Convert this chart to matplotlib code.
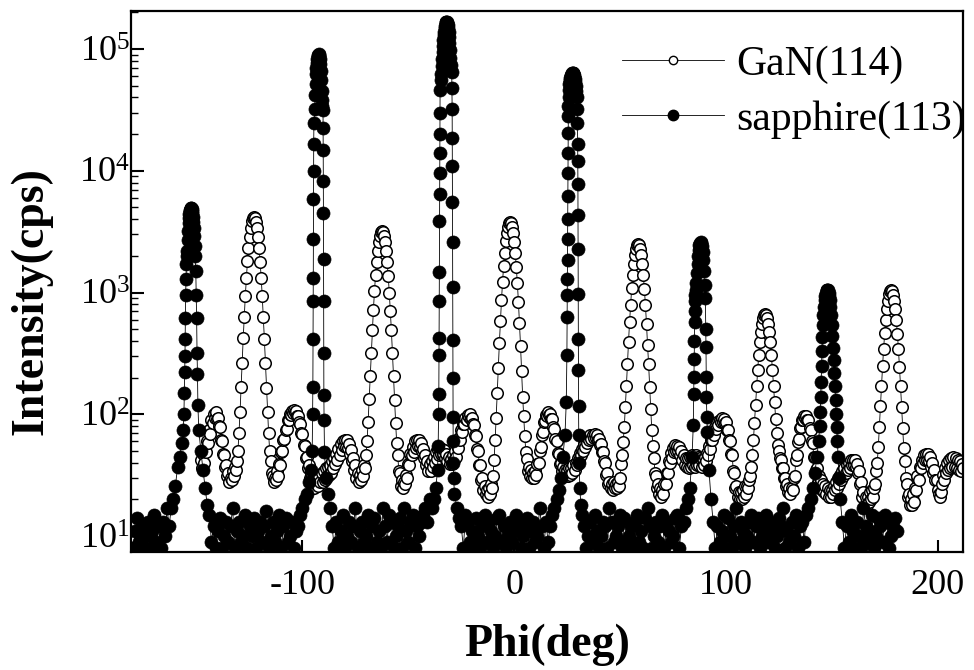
import numpy as np
import matplotlib
matplotlib.use("Agg")
import matplotlib.pyplot as plt
from matplotlib.lines import Line2D
import matplotlib.ticker as mticker

#
# Data
#

# GaN(114): 0.5 deg steps starting at -148 deg
gan_start = -148.0
gan_step = 0.5
gan_counts = [
    42, 36, 47, 40, 51, 49, 60, 58, 74, 69, 90, 85, 101, 94, 104, 92, 93, 80, 78, 62,
    60, 47, 46, 37, 38, 31, 33, 28, 30, 29, 34, 31, 37, 35, 41, 50, 70, 104, 168, 262,
    420, 635, 940, 1310, 1800, 2320, 2870, 3400, 3830, 4100, 4200, 4090, 3810, 3380, 2880, 2330, 1790, 1320, 930, 625,
    415, 265, 165, 104, 70, 50, 41, 33, 31, 28, 30, 29, 34, 31, 39, 38, 49, 50, 62, 63,
    75, 76, 89, 90, 100, 98, 107, 103, 109, 104, 106, 96, 97, 86, 83, 70, 69, 56, 55, 44,
    45, 36, 38, 30, 33, 27, 29, 25, 28, 27, 31, 26, 31, 28, 33, 28, 34, 29, 36, 31,
    37, 32, 38, 33, 41, 36, 44, 39, 47, 42, 52, 46, 57, 51, 60, 55, 62, 54, 61, 53,
    57, 47, 51, 41, 44, 35, 38, 30, 33, 28, 32, 29, 35, 31, 38, 36, 46, 60, 87, 133,
    205, 320, 488, 720, 1020, 1380, 1785, 2200, 2590, 2915, 3125, 3200, 3120, 2910, 2580, 2190, 1770, 1370, 1000, 705,
    488, 320, 205, 130, 85, 58, 46, 34, 33, 26, 29, 25, 28, 27, 32, 30, 39, 38, 47, 46,
    54, 49, 60, 53, 62, 55, 61, 54, 58, 50, 52, 44, 46, 38, 41, 34, 39, 34, 41, 37,
    45, 40, 49, 43, 51, 46, 53, 47, 52, 47, 51, 44, 47, 41, 45, 39, 43, 39, 46, 42,
    50, 45, 56, 53, 64, 62, 74, 72, 84, 83, 93, 90, 99, 95, 100, 92, 93, 83, 82, 68,
    66, 52, 50, 38, 38, 29, 30, 24, 26, 22, 24, 21, 25, 22, 27, 25, 31, 42, 61, 94,
    150, 242, 383, 585, 862, 1220, 1650, 2130, 2630, 3090, 3480, 3730, 3800, 3710, 3460, 3070, 2600, 2110, 1620, 1190,
    840, 565, 365, 226, 140, 96, 66, 49, 43, 34, 37, 31, 35, 30, 33, 30, 34, 32, 39, 40,
    50, 54, 68, 72, 86, 88, 98, 97, 104, 98, 101, 92, 91, 79, 76, 63, 60, 48, 47, 39,
    40, 34, 37, 32, 35, 31, 34, 31, 36, 32, 36, 33, 38, 35, 40, 38, 44, 42, 48, 46,
    52, 50, 57, 54, 61, 58, 64, 61, 67, 63, 68, 64, 69, 64, 67, 61, 63, 56, 57, 49,
    49, 41, 40, 32, 33, 27, 28, 25, 27, 24, 28, 25, 27, 25, 28, 26, 30, 39, 46, 59,
    78, 114, 170, 260, 392, 574, 785, 1090, 1385, 1713, 2020, 2275, 2443, 2500, 2443, 2275, 2020, 1713, 1385, 1068,
    785, 550, 368, 257, 167, 110, 74, 55, 44, 33, 31, 25, 27, 22, 25, 21, 24, 22, 27, 27,
    33, 33, 41, 40, 48, 44, 53, 49, 56, 50, 55, 50, 54, 46, 50, 42, 46, 38, 44, 37,
    44, 36, 45, 37, 46, 38, 44, 37, 46, 38, 45, 38, 44, 37, 43, 38, 45, 41, 48, 46,
    55, 52, 62, 61, 70, 68, 78, 76, 86, 81, 90, 86, 93, 87, 92, 85, 86, 75, 75, 62,
    60, 47, 46, 34, 33, 25, 26, 21, 23, 20, 23, 20, 24, 21, 26, 22, 26, 25, 29, 31,
    37, 46, 61, 85, 120, 170, 230, 305, 390, 475, 555, 622, 648, 660, 648, 622, 555, 475, 390, 305,
    230, 172, 125, 92, 70, 56, 50, 44, 42, 36, 36, 30, 30, 26, 27, 23, 25, 22, 25, 24,
    30, 31, 42, 46, 59, 63, 77, 79, 90, 90, 97, 93, 97, 89, 90, 77, 74, 60, 58, 45,
    45, 35, 36, 28, 31, 25, 29, 24, 27, 23, 26, 22, 25, 21, 24, 21, 24, 22, 26, 24,
    28, 25, 30, 27, 32, 29, 34, 31, 36, 33, 38, 35, 40, 36, 42, 38, 42, 38, 42, 37,
    39, 33, 34, 27, 28, 21, 23, 18, 21, 18, 21, 19, 23, 20, 24, 21, 25, 27, 34, 40,
    54, 78, 116, 171, 247, 345, 462, 594, 730, 858, 964, 1030, 1050, 1030, 962, 856, 728, 592, 460, 344,
    246, 170, 115, 77, 53, 41, 30, 27, 21, 22, 18, 20, 18, 22, 19, 25, 24, 31, 29, 37,
    36, 42, 40, 46, 42, 47, 42, 47, 41, 45, 37, 40, 33, 35, 29, 29, 24, 22, 21, 23,
    27, 32, 29, 36, 33, 40, 35, 42, 36, 44, 37, 45, 37, 44, 36, 42, 35, 41, 34, 39,
    36,
]

# sapphire(113): background stretches on a 1 deg grid, each with its start angle
sapphire_base_start = [-180, -144, -86, -25, 33, 94, 155]
sapphire_base_counts = [
    [8, 11, 14, 9, 12, 8, 10, 13, 8, 11, 15, 9, 12, 8, 13, 10, 17, 12, 17, 20, 26],
    [15, 9, 12, 8, 11, 14, 8, 10, 13, 9, 12, 17, 8, 11, 13, 9, 10, 15, 8, 12,
     10, 14, 8, 11, 13, 9, 12, 16, 8, 10, 13, 9, 11, 15, 8, 12, 14, 9, 10, 13,
     8, 11, 12, 15, 17, 20],
    [12, 8, 13, 9, 11, 15, 8, 10, 13, 9, 12, 17, 8, 11, 13, 9, 10, 15, 8, 12,
     14, 9, 11, 8, 17, 12, 9, 15, 13, 8, 10, 12, 14, 8, 17, 11, 9, 13, 15, 8,
     12, 10, 13, 15, 17, 13, 20, 17],
    [12, 8, 15, 13, 9, 11, 8, 14, 10, 8, 12, 15, 9, 13, 11, 8, 10, 14, 15, 9,
     12, 8, 10, 13, 9, 11, 15, 13, 8, 10, 12, 14, 8, 11, 13, 9, 10, 17, 12, 8,
     13, 9, 12, 15, 17, 20, 24],
    [12, 8, 10, 13, 9, 15, 11, 8, 10, 13, 12, 8, 17, 13, 9, 10, 12, 15, 8, 14,
     9, 10, 12, 8, 13, 15, 9, 11, 8, 14, 17, 12, 8, 10, 13, 9, 12, 15, 8, 13,
     11, 9, 10, 14, 15, 8, 12, 13, 17, 20],
    [13, 8, 12, 9, 11, 15, 8, 14, 10, 8, 12, 17, 9, 13, 11, 8, 10, 13, 15, 9,
     12, 14, 8, 10, 12, 15, 9, 13, 11, 8, 10, 14, 12, 17, 8, 11, 9, 13, 10, 15,
     8, 12, 13, 9, 15, 17, 20],
    [13, 8, 12, 9, 15, 11, 8, 13, 10, 8, 17, 12, 9, 11, 15, 8, 10, 14, 12, 9,
     15, 13, 8, 10, 12, 14, 11],
]

# sapphire(113) reflections, finely sampled
sapphire_peak_phi = [
    [-159, -158, -157, -156.3, -156.0, -155.8, -155.6, -155.5, -155.4, -155.3, -155.2, -155.0, -154.8, -154.6,
     -154.4, -154.2, -154.0, -153.8, -153.6, -153.4, -153.2, -153.0, -152.8, -152.6, -152.4, -152.2, -152.0,
     -151.8, -151.6, -151.4, -151.2, -151.0, -150.8,
     -150.4, -150.2, -150.0, -149.8, -149.6, -149.4, -149.0, -148.0, -147.0, -146.0, -145.0],
    [-98, -97, -96, -95.4, -95.2, -95.1, -95.0, -94.95, -94.9, -94.85, -94.8, -94.75, -94.7, -94.6,
     -94.2, -94.0, -93.8, -93.6, -93.4, -93.2, -93.0, -92.8, -92.6, -92.4, -92.2, -92.0, -91.8, -91.6,
     -91.4, -91.2, -91.0, -90.8, -90.6,
     -90.3, -90.25, -90.2, -90.15, -90.1, -90.05, -90.0, -89.95, -89.9, -89.8, -89.6, -89.0, -88.0, -87.0],
    [-38, -37, -36.2, -35.9, -35.7, -35.6, -35.5, -35.45, -35.4, -35.35, -35.3, -35.25, -35.2, -35.15,
     -35.1, -35.05, -35.0, -34.8,
     -34.4, -34.2, -34.0, -33.8, -33.6, -33.4, -33.2, -33.0, -32.8, -32.6, -32.4, -32.2, -32.0, -31.8,
     -31.6, -31.4, -31.2, -31.0, -30.8, -30.6, -30.4, -30.2, -30.0,
     -29.5, -29.4, -29.3, -29.25, -29.2, -29.15, -29.1, -29.05, -29.0, -28.95, -28.9, -28.85, -28.8,
     -28.6, -28.2, -27.0, -26.0],
    [22, 23, 24, 24.6, 24.9, 25.0, 25.1, 25.15, 25.2, 25.25, 25.3, 25.35, 25.4, 25.45, 25.5, 25.55,
     25.6, 25.7, 25.8, 26.0,
     26.2, 26.4, 26.6, 26.8, 27.0, 27.2, 27.4, 27.6, 27.8, 28.0, 28.2, 28.4, 28.6, 28.8, 29.0, 29.2,
     29.6, 29.8, 29.9, 30.0, 30.05, 30.1, 30.15, 30.2, 30.25, 30.3, 30.35, 30.4, 30.5, 30.7, 31.0,
     31.5, 32.0],
    [83, 84, 84.6, 84.8, 84.9, 85.0, 85.1, 85.2, 85.3, 85.4, 85.6, 85.8,
     86.0, 86.3, 86.6, 86.9, 87.2, 87.5, 87.8, 88.1, 88.4, 88.7, 89.0, 89.3, 89.6, 89.9,
     90.3, 90.5, 90.6, 90.7, 90.8, 91.0, 91.3, 92.0, 93.0],
    [141, 142, 143, 143.8, 144.3, 144.6, 144.8, 145.0, 145.2, 145.4, 145.6,
     145.8, 146.1, 146.4, 146.7, 147.0, 147.3, 147.6, 147.9, 148.2, 148.5, 148.8, 149.1, 149.4,
     149.7, 150.0, 150.3, 150.6, 150.9,
     151.2, 151.5, 151.8, 152.1, 152.4, 152.7, 153.0, 153.5, 154.0],
]
sapphire_peak_counts = [
    [37, 45, 58, 75, 100, 150, 224, 300, 417, 617, 955, 1300, 1700, 2000,
     2200, 2700, 3200, 3700, 4100, 4400, 4650, 4800, 4900, 4900, 4850, 4700, 4500,
     4200, 3800, 3400, 2900, 2400, 2000,
     1500, 955, 617, 316, 214, 120, 75, 50, 35, 25, 18],
    [22, 28, 35, 50, 100, 166, 417, 850, 1320, 2750, 5900, 10000, 16600, 24500,
     32000, 42000, 52000, 62000, 70000, 77000, 83000, 87000, 90000, 91000, 90000, 87000, 82000, 75000,
     66000, 56000, 45000, 38000, 34000,
     31600, 22400, 14800, 8300, 4470, 1900, 850, 320, 145, 90, 49, 30, 22, 17],
    [20, 25, 35, 55, 100, 148, 309, 420, 850, 1480, 3900, 6500, 9500, 14000,
     20000, 30000, 46000, 56000,
     62000, 72000, 82000, 94000, 106000, 118000, 129000, 139000, 148000, 155000, 161000, 165000, 167000, 166000,
     162000, 156000, 148000, 138000, 126000, 112000, 98000, 85000, 74000,
     65000, 48000, 32000, 18600, 11000, 5500, 2600, 1120, 410, 200, 95, 60, 40,
     30, 22, 17, 14],
    [30, 45, 68, 126, 309, 630, 955, 1290, 1860, 2750, 3980, 6170, 9550, 14100, 20400, 28200,
     34000, 40000, 46000, 52000,
     54000, 56000, 58000, 60000, 61000, 62000, 63000, 63000, 63000, 62000, 61000, 59000, 57000, 54000, 50000, 45000,
     40000, 32000, 24500, 16600, 12000, 7760, 4370, 2290, 980, 417, 230, 117, 68, 40, 25,
     18, 15],
    [25, 45, 81, 148, 204, 282, 398, 575, 700, 850, 950, 1050,
     1200, 1450, 1700, 2000, 2250, 2450, 2570, 2600, 2550, 2400, 2150, 1850, 1500, 1150,
     900, 500, 355, 204, 138, 95, 71, 35, 20],
    [25, 33, 45, 60, 80, 105, 140, 185, 250, 330, 430,
     540, 650, 760, 860, 940, 1000, 1040, 1050, 1040, 1000, 940, 860, 760,
     650, 540, 440, 350, 280,
     220, 170, 130, 100, 78, 60, 45, 30, 20],
]

x_ticks = [-100, 0, 100, 200]
y_ticks = [1e1, 1e2, 1e3, 1e4, 1e5]

#
# Assemble series
#

gan_phi = gan_start + gan_step * np.arange(len(gan_counts))

sap_phi = []
sap_counts = []
for i, start in enumerate(sapphire_base_start):
    base = sapphire_base_counts[i]
    sap_phi.extend(start + np.arange(len(base)))
    sap_counts.extend(base)
    if i < len(sapphire_peak_phi):
        sap_phi.extend(sapphire_peak_phi[i])
        sap_counts.extend(sapphire_peak_counts[i])

#
# Graph
#

plt.rcParams["font.family"] = "serif"
plt.rcParams["font.serif"] = ["Liberation Serif", "DejaVu Serif"]
plt.rcParams["mathtext.fontset"] = "custom"
plt.rcParams["mathtext.rm"] = "Liberation Serif"
plt.rcParams["axes.unicode_minus"] = False

fig = plt.figure(figsize=(9.74, 6.70), dpi=100)
ax = fig.add_axes([131 / 974, 1 - 552 / 670, (963 - 131) / 974, (552 - 11) / 670])

ax.plot(gan_phi, gan_counts, color="black", lw=0.6, marker="o", ms=8.3,
        mfc="white", mec="black", mew=1.1, zorder=2)
ax.plot(sap_phi, sap_counts, color="black", lw=0.6, marker="o", ms=9.4,
        mfc="black", mec="black", mew=0.5, zorder=3)

ax.set_yscale("log")
ax.set_xlim(-181, 212)
ax.set_ylim(7.4, 2.05e5)

ax.set_xticks(x_ticks)
ax.set_yticks(y_ticks)
ax.yaxis.set_major_formatter(mticker.LogFormatterSciNotation())
ax.yaxis.set_minor_locator(mticker.LogLocator(base=10, subs=np.arange(2, 10)))
ax.yaxis.set_minor_formatter(mticker.NullFormatter())
ax.tick_params(axis="both", which="major", direction="in", length=9, width=1.5,
               labelsize=26)
ax.tick_params(axis="both", which="minor", direction="in", length=5, width=1.0)
ax.tick_params(axis="x", which="major", pad=12)
ax.tick_params(axis="y", which="major", pad=1)
for spine in ax.spines.values():
    spine.set_linewidth(1.6)

ax.set_xlabel("Phi(deg)", fontsize=33, fontweight="bold", labelpad=16)
ax.set_ylabel("Intensity(cps)", fontsize=33, fontweight="bold")
ax.yaxis.set_label_coords(-0.094, 0.464)

handles = [
    Line2D([], [], color="black", lw=0.6, marker="o", ms=6, mfc="white", mec="black", mew=1.0),
    Line2D([], [], color="black", lw=0.6, marker="o", ms=7.5, mfc="black", mec="black"),
]
ax.legend(handles, ["GaN(114)", "sapphire(113)"], loc="upper left",
          bbox_to_anchor=(622 / 974, 1 - 45 / 670), bbox_transform=fig.transFigure,
          frameon=False, fontsize=30, handlelength=2.45, handletextpad=0.28,
          labelspacing=0.4, borderpad=0, borderaxespad=0)

fig.savefig("out.png", dpi=100)
